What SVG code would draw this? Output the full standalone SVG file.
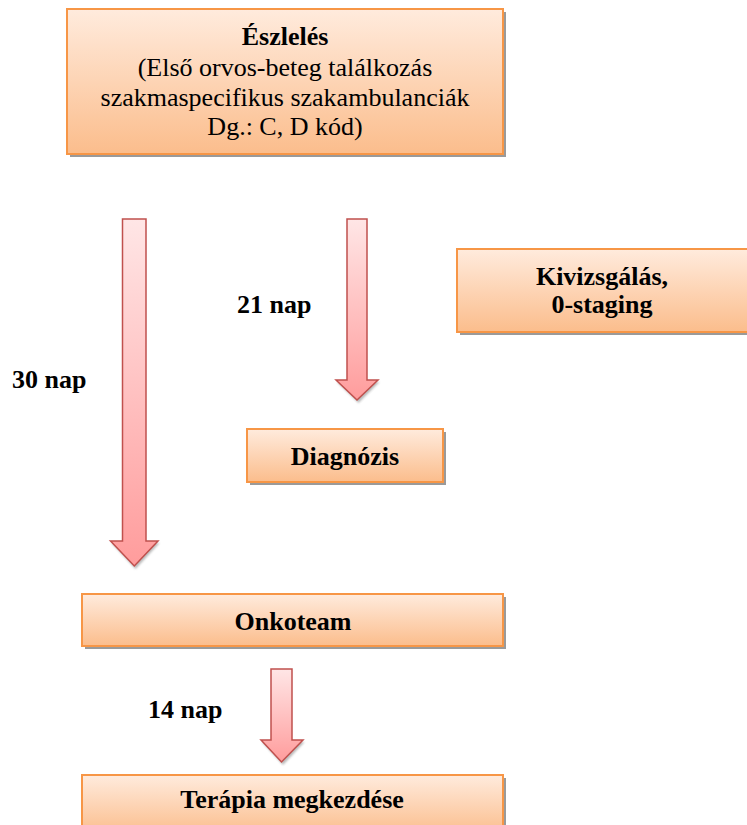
<svg xmlns="http://www.w3.org/2000/svg" width="747" height="825" viewBox="0 0 747 825" font-family="'Liberation Serif', 'Times New Roman', 'DejaVu Serif', serif">
  <defs>
    <linearGradient id="boxFill" x1="0" y1="0" x2="0" y2="1">
      <stop offset="0" stop-color="#FFEBDD"/>
      <stop offset="1" stop-color="#FBBD8C"/>
    </linearGradient>
    <linearGradient id="arrowFill" x1="0" y1="0" x2="0" y2="1">
      <stop offset="0" stop-color="#FFE6E6"/>
      <stop offset="1" stop-color="#FF9C9C"/>
    </linearGradient>
    <filter id="soft" x="-10%" y="-10%" width="130%" height="130%">
      <feGaussianBlur stdDeviation="1"/>
    </filter>
  </defs>
  <style>
    .box { fill: url(#boxFill); stroke: #F79646; stroke-width: 2; }
    .shadow { fill: #9A9A9A; }
    .arrow { fill: url(#arrowFill); stroke: #C0504D; stroke-width: 1.5; stroke-linejoin: miter; }
    .ashadow { fill: #8C8C8C; opacity: 0.6; filter: url(#soft); }
    text { font-family: 'Liberation Serif', 'Times New Roman', 'DejaVu Serif', serif; font-size: 26px; fill: #000; }
    .b { font-weight: bold; }
    .c { text-anchor: middle; }
  </style>

  <g id="connectors">
    <path class="ashadow" d="M111.5,543 H159.5 L135.5,569 Z"/>
    <path class="arrow" d="M122.5,219 H146 V541 H158 L134.3,566 L110.5,541 H122.5 Z"/>
    <path class="ashadow" d="M337,382 H379.5 L358.5,403 Z"/>
    <path class="arrow" d="M347,219 H367 V380 H378 L357,400 L336,380 H347 Z"/>
    <path class="ashadow" d="M262,742 H304.5 L283,765 Z"/>
    <path class="arrow" d="M271,669 H292 V740 H303 L281.5,762 L261,740 H271 Z"/>
  </g>

  <g id="eszleles">
    <rect class="shadow" x="70" y="12" width="436" height="145"/>
    <rect class="box" x="67" y="9" width="436" height="145"/>
    <text class="b c" x="285" y="45">Észlelés</text>
    <text class="c" x="285" y="76">(Első orvos-beteg találkozás</text>
    <text class="c" x="285" y="106">szakmaspecifikus szakambulanciák</text>
    <text class="c" x="285" y="135">Dg.: C, D kód)</text>
  </g>

  <g id="kivizsgalas">
    <rect class="shadow" x="460" y="252" width="292" height="83"/>
    <rect class="box" x="457" y="249" width="292" height="83"/>
    <text class="b c" x="602" y="285">Kivizsgálás,</text>
    <text class="b c" x="602" y="313">0-staging</text>
  </g>

  <g id="diagnozis">
    <rect class="shadow" x="250" y="432" width="196" height="53"/>
    <rect class="box" x="247" y="429" width="196" height="53"/>
    <text class="b c" x="345" y="465">Diagnózis</text>
  </g>

  <g id="onkoteam">
    <rect class="shadow" x="85" y="597" width="421" height="52"/>
    <rect class="box" x="82" y="594" width="421" height="52"/>
    <text class="b c" x="293" y="630">Onkoteam</text>
  </g>

  <g id="terapia">
    <rect class="shadow" x="85" y="778" width="421" height="60"/>
    <rect class="box" x="82" y="775" width="421" height="60"/>
    <text class="b c" x="292" y="808">Terápia megkezdése</text>
  </g>

  <g id="labels">
    <text class="b" x="237" y="313">21 nap</text>
    <text class="b" x="12" y="388">30 nap</text>
    <text class="b" x="148" y="718">14 nap</text>
  </g>
</svg>
